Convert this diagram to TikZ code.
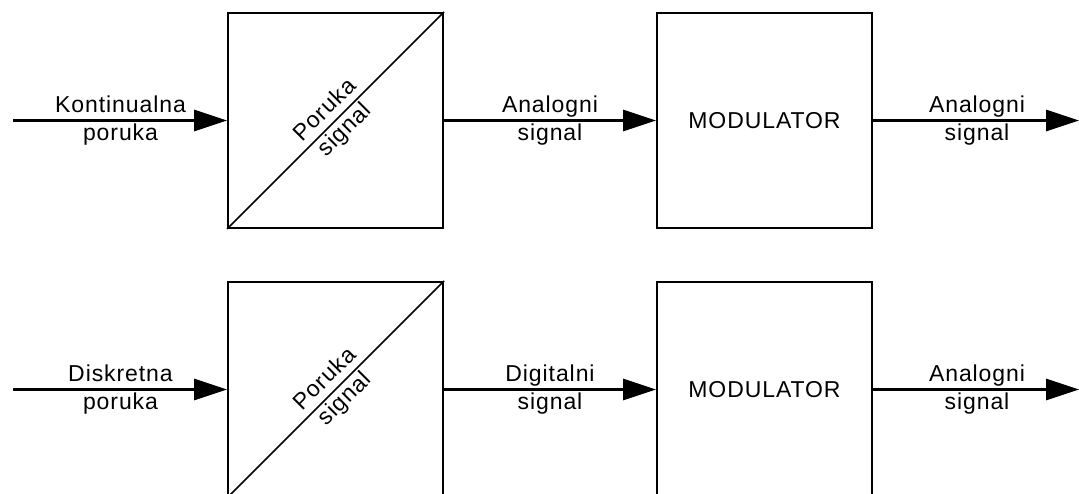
\documentclass[tikz,border=0pt]{standalone}
\usepackage{fontspec}
\setmainfont[LetterSpace=4]{Liberation Sans}
\usetikzlibrary{arrows.meta}

\begin{document}
\begin{tikzpicture}[x=1pt,y=-1pt,
    blok/.style={draw,line width=2pt,minimum size=215pt,inner sep=0pt,
      font=\fontsize{23}{28}\selectfont},
    oznaka/.style={align=center,inner sep=0pt,font=\fontsize{23}{28}\selectfont},
    strel/.style={line width=3.2pt,-{Triangle[length=33pt,width=21pt]}}]
  \useasboundingbox (0,0) rectangle (1079,494);
  % gornji red
  \coordinate (ulaz1) at (13,120.5);
  \node[blok] (pret1) at (335.5,120.5) {};
  \node[blok] (mod1) at (764.5,120.5) {MODULATOR};
  \coordinate (izlaz1) at (1079,120.5);
  \draw[line width=1.5pt] (pret1.south west) -- (pret1.north east);
  \node[oznaka,rotate=45] (tekst1) at (pret1.center) {Poruka\\signal};
  \draw[strel] (ulaz1) -- (pret1.west);
  \draw[strel] (pret1.east) -- (mod1.west);
  \draw[strel] (mod1.east) -- (izlaz1);
  \node[oznaka] (l11) at (120.5,120.5) {Kontinualna\\poruka};
  \node[oznaka] (l12) at (550,120.5) {Analogni\\signal};
  \node[oznaka] (l13) at (977,120.5) {Analogni\\signal};
  % donji red
  \coordinate (ulaz2) at (13,389.5);
  \node[blok] (pret2) at (335.5,389.5) {};
  \node[blok] (mod2) at (764.5,389.5) {MODULATOR};
  \coordinate (izlaz2) at (1079,389.5);
  \draw[line width=1.5pt] (pret2.south west) -- (pret2.north east);
  \node[oznaka,rotate=45] (tekst2) at (pret2.center) {Poruka\\signal};
  \draw[strel] (ulaz2) -- (pret2.west);
  \draw[strel] (pret2.east) -- (mod2.west);
  \draw[strel] (mod2.east) -- (izlaz2);
  \node[oznaka] (l21) at (120.5,389.5) {Diskretna\\poruka};
  \node[oznaka] (l22) at (550,389.5) {Digitalni\\signal};
  \node[oznaka] (l23) at (977,389.5) {Analogni\\signal};
\end{tikzpicture}
\end{document}
